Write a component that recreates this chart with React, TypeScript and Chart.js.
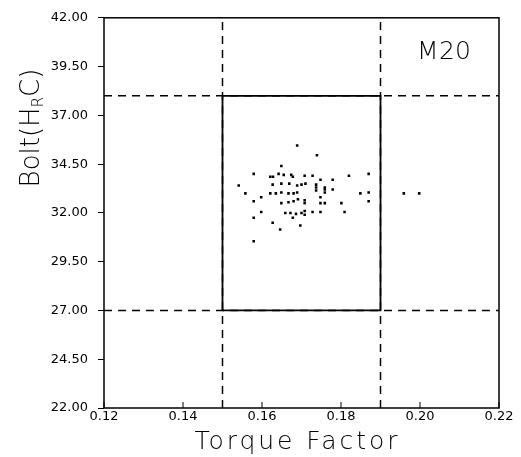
import React, { useEffect, useRef } from "react";
import { Chart, registerables } from "chart.js";
Chart.register(...registerables);

const torqueFactor = [
  0.1689, 0.1739, 0.1649, 0.1579, 0.1621, 0.1628, 0.1642, 0.1655, 0.1674, 0.1678,
  0.1708, 0.1728, 0.1748, 0.1779, 0.182, 0.187, 0.1541, 0.1558, 0.1627, 0.1649,
  0.1669, 0.1689, 0.17, 0.171, 0.1737, 0.1737, 0.1737, 0.1759, 0.1759, 0.1759,
  0.1779, 0.1621, 0.1635, 0.1649, 0.1667, 0.168, 0.1689, 0.1598, 0.1579, 0.1649,
  0.1667, 0.168, 0.1691, 0.1708, 0.1708, 0.1748, 0.1759, 0.1801, 0.1748, 0.187,
  0.1849, 0.187, 0.1598, 0.1659, 0.1672, 0.1686, 0.17, 0.1708, 0.1708, 0.1728,
  0.1748, 0.1809, 0.1579, 0.1627, 0.1678, 0.1697, 0.1646, 0.1579, 0.1959, 0.1998,
];
const boltHardness = [
  35.45, 34.95, 34.4, 34.0, 33.85, 33.85, 34.0, 33.95, 33.95, 33.85,
  33.9, 33.9, 33.7, 33.7, 33.9, 34.0, 33.4, 33.0, 33.45, 33.5,
  33.5, 33.4, 33.45, 33.5, 33.45, 33.3, 33.15, 33.3, 33.05, 33.2,
  33.2, 33.0, 33.0, 33.05, 33.0, 33.0, 33.05, 32.8, 32.6, 32.5,
  32.55, 32.6, 32.7, 32.65, 32.5, 32.5, 32.5, 32.5, 32.8, 32.6,
  33.0, 33.05, 32.05, 32.0, 32.0, 31.95, 32.0, 32.1, 31.9, 32.05,
  32.05, 32.05, 31.75, 31.5, 31.75, 31.35, 31.15, 30.55, 33.0, 33.0,
];

const xRange = [0.12, 0.22];
const yRange = [22, 42];
const xTicks = [0.12, 0.14, 0.16, 0.18, 0.2, 0.22];
const yTicks = [22, 24.5, 27, 29.5, 32, 34.5, 37, 39.5, 42];
const specX = [0.15, 0.19];
const specY = [27, 38];
const xTitle = "Torque Factor";
const yTitleParts = ["Bolt(H", "R", "C)"];
const sizeLabel = "M20";

const FONT = "'DejaVu Sans', 'Liberation Sans', sans-serif";

function spacedText(ctx: any, text: string, cx: number, cy: number, targetW: number) {
  ctx.letterSpacing = "0px";
  const w = ctx.measureText(text).width;
  const sp = Math.max(0, (targetW - w) / text.length);
  ctx.letterSpacing = `${sp.toFixed(2)}px`;
  ctx.fillText(text, cx + sp / 2, cy);
  ctx.letterSpacing = "0px";
}

const overlayPlugin = {
  id: "overlay",
  afterDraw(chart: any) {
    const { ctx, chartArea } = chart;
    const { left, right, top, bottom } = chartArea;
    const xs = chart.scales.x;
    ctx.save();
    ctx.strokeStyle = "#000";
    ctx.lineWidth = 1.5;
    ctx.setLineDash([]);
    ctx.strokeRect(left, top, right - left, bottom - top);
    ctx.lineWidth = 1;
    xTicks.forEach((v) => {
      const px = xs.getPixelForValue(v);
      ctx.beginPath();
      ctx.moveTo(px, bottom);
      ctx.lineTo(px, bottom - 6);
      ctx.stroke();
    });
    ctx.fillStyle = "#000";
    ctx.textAlign = "center";
    ctx.textBaseline = "middle";
    ctx.font = `300 25px ${FONT}`;
    spacedText(ctx, xTitle, 296, 442, 206);
    ctx.font = `300 25px ${FONT}`;
    spacedText(ctx, sizeLabel, 444, 52, 54);
    ctx.translate(30, 128);
    ctx.rotate(-Math.PI / 2);
    const big = `300 26px ${FONT}`;
    const small = `300 15px ${FONT}`;
    ctx.font = big;
    const w0 = ctx.measureText(yTitleParts[0]).width;
    const w2 = ctx.measureText(yTitleParts[2]).width;
    ctx.font = small;
    const w1 = ctx.measureText(yTitleParts[1]).width;
    const total = w0 + w1 + w2;
    let x = -total / 2;
    ctx.textAlign = "left";
    ctx.textBaseline = "alphabetic";
    ctx.font = big;
    ctx.fillText(yTitleParts[0], x, 9);
    x += w0;
    ctx.font = small;
    ctx.fillText(yTitleParts[1], x, 13);
    x += w1;
    ctx.font = big;
    ctx.fillText(yTitleParts[2], x, 9);
    ctx.restore();
  },
};

export default function App() {
  const ref = useRef<HTMLCanvasElement>(null);
  useEffect(() => {
    if (!ref.current) return;
    const scatter = torqueFactor.map((x, i) => ({ x, y: boltHardness[i] }));
    const dashed = [
      { data: [{ x: specX[0], y: yRange[0] }, { x: specX[0], y: yRange[1] }] },
      { data: [{ x: specX[1], y: yRange[0] }, { x: specX[1], y: yRange[1] }] },
      { data: [{ x: xRange[0], y: specY[0] }, { x: xRange[1], y: specY[0] }] },
      { data: [{ x: xRange[0], y: specY[1] }, { x: xRange[1], y: specY[1] }] },
    ].map((d) => ({
      type: "line" as const,
      data: d.data,
      borderColor: "#000",
      borderWidth: 1.5,
      borderDash: [8, 6],
      pointRadius: 0,
      fill: false,
    }));
    const box = {
      type: "line" as const,
      data: [
        { x: specX[0], y: specY[0] },
        { x: specX[0], y: specY[1] },
        { x: specX[1], y: specY[1] },
        { x: specX[1], y: specY[0] },
        { x: specX[0], y: specY[0] },
      ],
      borderColor: "#000",
      borderWidth: 1.8,
      pointRadius: 0,
      fill: false,
    };
    const chart = new Chart(ref.current, {
      type: "scatter",
      data: {
        datasets: [
          ...dashed,
          box,
          {
            type: "scatter" as const,
            data: scatter,
            pointStyle: "rect",
            pointRadius: 1.8,
            pointBorderWidth: 0,
            backgroundColor: "#000",
            borderColor: "#000",
          },
        ] as any,
      },
      options: {
        animation: false,
        responsive: false,
        events: [],
        layout: { padding: { top: 13, right: 22, left: 0, bottom: 0 } },
        plugins: { legend: { display: false }, tooltip: { enabled: false } },
        scales: {
          x: {
            type: "linear",
            min: xRange[0],
            max: xRange[1],
            afterBuildTicks: (s: any) => {
              s.ticks = xTicks.map((v) => ({ value: v }));
            },
            afterFit: (s: any) => {
              s.height = 49;
            },
            grid: { display: false, drawTicks: false },
            border: { display: false },
            ticks: {
              padding: 1,
              color: "#000",
              font: { family: FONT, size: 13 },
              maxRotation: 0,
              autoSkip: false,
              callback: (v: any) => Number(v).toFixed(2),
            },
          },
          y: {
            type: "linear",
            min: yRange[0],
            max: yRange[1],
            afterBuildTicks: (s: any) => {
              s.ticks = yTicks.map((v) => ({ value: v }));
            },
            afterFit: (s: any) => {
              s.width = 104;
            },
            grid: {
              display: true,
              drawOnChartArea: false,
              drawTicks: true,
              tickLength: 6,
              color: "#000",
              lineWidth: 1,
            },
            border: { display: false },
            ticks: {
              padding: 10,
              color: "#000",
              font: { family: FONT, size: 13 },
              autoSkip: false,
              callback: (v: any) => Number(v).toFixed(2),
            },
          },
        },
      },
      plugins: [overlayPlugin],
    });
    return () => chart.destroy();
  }, []);
  return (
    <div style={{ position: "fixed", left: 0, top: 0, width: 521, height: 457, background: "#fff" }}>
      <canvas ref={ref} width={521} height={457} style={{ display: "block" }} />
    </div>
  );
}
